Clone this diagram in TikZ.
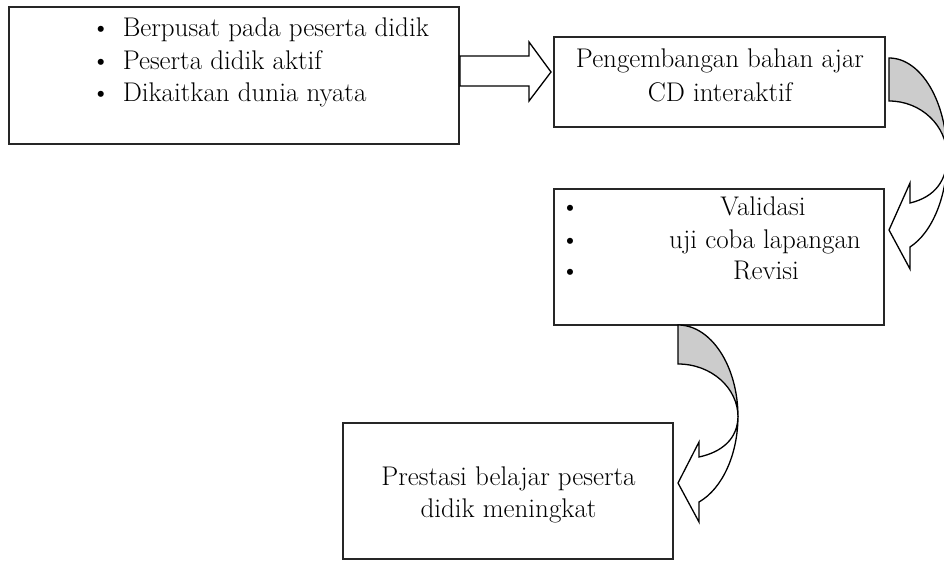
\documentclass[tikz,border=0pt]{standalone}
\usetikzlibrary{positioning}

\tikzset{
  kotak/.style={draw=black!85, line width=1.8pt, inner sep=0pt},
  teks/.style={font=\fontsize{27}{32}\selectfont, inner sep=0pt},
  panah/.style={draw=black, line width=1.3pt, fill=white, line join=miter},
  panahabu/.style={panah, fill=black!20}
}

\begin{document}
\begin{tikzpicture}[x=1pt,y=-1pt]
    \useasboundingbox (0,0) rectangle (944,561);
    % kotak-kotak
    \node[kotak, minimum width=450, minimum height=137] (ciri) at (234,75.5) {};
    \node[kotak, minimum width=331, minimum height=90] (bahan) at (719.5,82) {};
    \node[kotak, minimum width=330, minimum height=136] (uji) at (719,257) {};
    \node[kotak, minimum width=330, minimum height=136] (hasil) at (508,491) {};

    % isi kotak
    \node[teks, anchor=base west] (ciri1) at (91,37) {\textbullet\hspace{0.45em}Berpusat pada peserta didik};
    \node[teks, anchor=base west] (ciri2) at (91,69.5) {\textbullet\hspace{0.45em}Peserta didik aktif};
    \node[teks, anchor=base west] (ciri3) at (91,102) {\textbullet\hspace{0.45em}Dikaitkan dunia nyata};
    \node[teks, anchor=base] (bahan1) at (720,68) {Pengembangan bahan ajar};
    \node[teks, anchor=base] (bahan2) at (720,101.5) {CD interaktif};
    \node[teks, anchor=base] (b1) at (570,216) {\textbullet};
    \node[teks, anchor=base] (b2) at (570,248) {\textbullet};
    \node[teks, anchor=base] (b3) at (570,279) {\textbullet};
    \node[teks, anchor=base] (uji1) at (763,216) {Validasi};
    \node[teks, anchor=base] (uji2) at (765,248) {uji coba lapangan};
    \node[teks, anchor=base] (uji3) at (766,279) {Revisi};
    \node[teks, anchor=base] (hasil1) at (508.5,485) {Prestasi belajar peserta};
    \node[teks, anchor=base] (hasil2) at (508.5,517) {didik meningkat};

    % panah lurus
    \draw[panah] (ciri.east |- 0,56) -- (529,56) -- (529,42) -- (551,72)
        -- (529,101) -- (529,86) -- (ciri.east |- 0,86) -- cycle;

    % panah lengkung 1
    \filldraw[panahabu] (889,58) arc[start angle=-90, end angle=0, x radius=58, y radius=98]
        arc[start angle=0, end angle=-90, x radius=58, y radius=55] -- cycle;
    \filldraw[panah] (910,203) -- (910,183) -- (889,230) -- (910,269) -- (910,247)
        arc[start angle=69, end angle=0, x radius=58, y radius=98]
        .. controls +(0,25) and +(25,-6) .. (910,203) -- cycle;

    % panah lengkung 2
    \filldraw[panahabu] (678,325) arc[start angle=-90, end angle=0, x radius=60, y radius=92]
        arc[start angle=0, end angle=-90, x radius=60, y radius=53] -- cycle;
    \filldraw[panah] (699,457) -- (699,442) -- (678,483) -- (699,522) -- (699,502)
        arc[start angle=69.5, end angle=0, x radius=60, y radius=92]
        .. controls +(0,23) and +(23,-5) .. (699,457) -- cycle;
\end{tikzpicture}
\end{document}
